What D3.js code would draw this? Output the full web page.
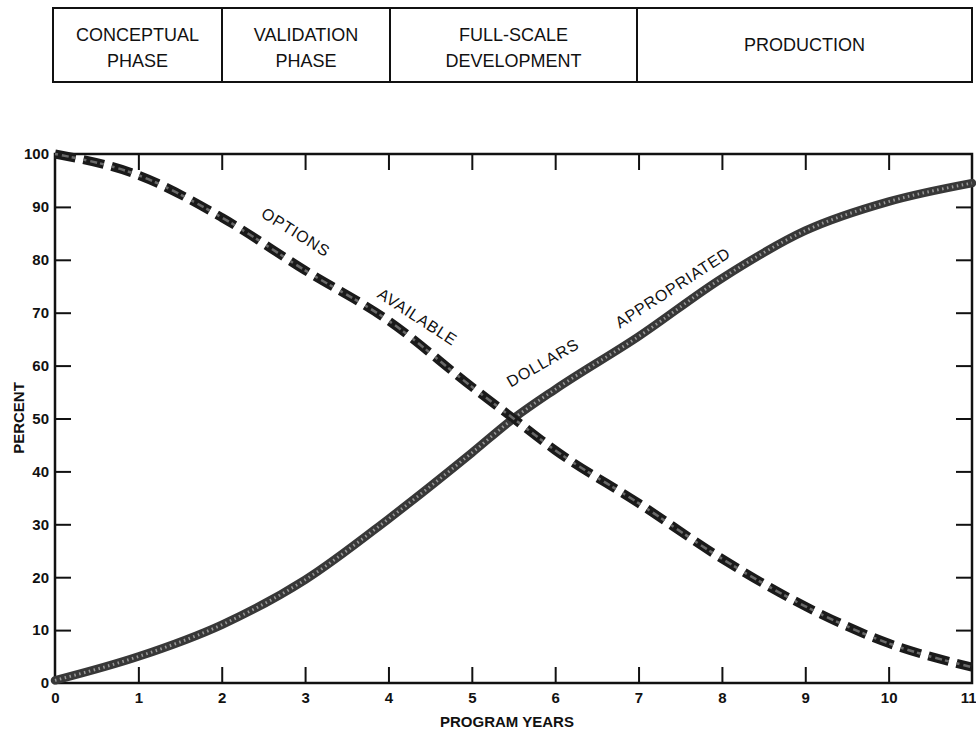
<!DOCTYPE html>
<html>
<head>
<meta charset="utf-8">
<script src="https://cdn.jsdelivr.net/npm/d3@7/dist/d3.min.js"></script>
<style>
  html, body { margin: 0; padding: 0; background: #fff; }
  svg { display: block; }
  text { font-family: "Liberation Sans", Arial, Helvetica, sans-serif; fill: #111; }
</style>
</head>
<body>
<svg id="chart" width="976" height="730"></svg>
<script>
// ---- data ----
const years = [0, 1, 2, 3, 4, 5, 5.5, 6, 7, 8, 9, 10, 11];
const dollarsAppropriated = [0.5, 5, 11, 19.5, 31, 43.5, 50, 55.5, 65.5, 76.5, 85.5, 91, 94.5];
const optionsAvailable   = [100, 96, 88, 78, 68.5, 56, 50, 44, 34, 23.5, 14.5, 7.5, 3];
const xTickValues = [0, 1, 2, 3, 4, 5, 6, 7, 8, 9, 10, 11];
const yTickValues = [0, 10, 20, 30, 40, 50, 60, 70, 80, 90, 100];
const phaseNames = [["CONCEPTUAL", "PHASE"], ["VALIDATION", "PHASE"], ["FULL-SCALE", "DEVELOPMENT"], ["PRODUCTION"]];
const phaseBounds = [[53, 222], [222, 390], [390, 637], [637, 972]]; // pixel columns of the header boxes
const curveLabels = [
  { text: "OPTIONS", year: 2.88, pct: 85.0, angle: 32 },
  { text: "AVAILABLE", year: 4.34, pct: 69.0, angle: 33 },
  { text: "DOLLARS", year: 5.86, pct: 60.3, angle: -30 },
  { text: "APPROPRIATED", year: 7.42, pct: 74.5, angle: -33 }
];

// ---- layout ----
const svg = d3.select("#chart");
const x = d3.scaleLinear().domain([0, 11]).range([55, 972]);
const y = d3.scaleLinear().domain([0, 100]).range([683, 154]);

// ---- phase header ----
const hdrTop = 8, hdrBot = 82;
const hdr = svg.append("g");
hdr.append("rect").attr("x", phaseBounds[0][0]).attr("y", hdrTop)
  .attr("width", phaseBounds[3][1] - phaseBounds[0][0]).attr("height", hdrBot - hdrTop)
  .attr("fill", "none").attr("stroke", "#111").attr("stroke-width", 2);
phaseBounds.slice(1).forEach(b => {
  hdr.append("line").attr("x1", b[0]).attr("x2", b[0]).attr("y1", hdrTop).attr("y2", hdrBot)
    .attr("stroke", "#111").attr("stroke-width", 2);
});
phaseNames.forEach((lines, i) => {
  const cx = (phaseBounds[i][0] + phaseBounds[i][1]) / 2;
  const baselines = lines.length === 2 ? [41, 67] : [51];
  lines.forEach((t, j) => {
    hdr.append("text").attr("x", cx).attr("y", baselines[j])
      .attr("text-anchor", "middle").attr("font-size", 18).text(t);
  });
});

// ---- frame ----
svg.append("rect").attr("x", x(0)).attr("y", y(100))
  .attr("width", x(11) - x(0)).attr("height", y(0) - y(100))
  .attr("fill", "none").attr("stroke", "#111").attr("stroke-width", 2.5);

// ---- axes (inward ticks on all sides) ----
const tickLen = 16;
const gB = svg.append("g").attr("transform", `translate(0,${y(0)})`)
  .call(d3.axisBottom(x).tickValues(xTickValues).tickSizeInner(-tickLen).tickSizeOuter(0).tickPadding(9).tickFormat(d3.format("d")));
const gT = svg.append("g").attr("transform", `translate(0,${y(100)})`)
  .call(d3.axisTop(x).tickValues(xTickValues.slice(1, -1)).tickSizeInner(-tickLen).tickSizeOuter(0).tickFormat(""));
const gL = svg.append("g").attr("transform", `translate(${x(0)},0)`)
  .call(d3.axisLeft(y).tickValues(yTickValues).tickSizeInner(-tickLen).tickSizeOuter(0).tickPadding(6).tickFormat(d3.format("d")));
const gR = svg.append("g").attr("transform", `translate(${x(11)},0)`)
  .call(d3.axisRight(y).tickValues(yTickValues.slice(1, -1)).tickSizeInner(-tickLen).tickSizeOuter(0).tickFormat(""));
[gB, gT, gL, gR].forEach(g => {
  g.select(".domain").remove();
  g.selectAll(".tick line").attr("stroke", "#111").attr("stroke-width", 2);
  g.selectAll(".tick text").attr("font-size", 15).attr("font-weight", "bold")
    .attr("font-family", "'Liberation Sans', Arial, sans-serif").attr("fill", "#111");
});
gL.selectAll(".tick").filter(d => d === 0 || d === 100).select("line").remove();
gB.selectAll(".tick").filter(d => d === 0 || d === 11).select("line").remove();
gB.selectAll(".tick").filter(d => d === 11).select("text").attr("text-anchor", "end").attr("dx", 4);

// ---- axis titles ----
svg.append("text").attr("x", 507).attr("y", 727).attr("text-anchor", "middle")
  .attr("font-size", 15).attr("font-weight", "bold").text("PROGRAM YEARS");
svg.append("text").attr("transform", "translate(24,418) rotate(-90)").attr("text-anchor", "middle")
  .attr("font-size", 15).attr("font-weight", "bold").text("PERCENT");

// ---- curves ----
const line = d3.line().x(d => x(d[0])).y(d => y(d[1])).curve(d3.curveMonotoneX);
const optData = years.map((yr, i) => [yr, optionsAvailable[i]]);
const dolData = years.map((yr, i) => [yr, dollarsAppropriated[i]]);

// dollars appropriated: thick solid speckled line
svg.append("path").attr("d", line(dolData)).attr("fill", "none")
  .attr("stroke", "#383838").attr("stroke-width", 8.5).attr("stroke-linecap", "round");
svg.append("path").attr("d", line(dolData)).attr("fill", "none")
  .attr("stroke", "#9a9a9a").attr("stroke-width", 3).attr("stroke-dasharray", "1.5 3.5");

// options available: thick dashed line
svg.append("path").attr("d", line(optData)).attr("fill", "none")
  .attr("stroke", "#1a1a1a").attr("stroke-width", 9).attr("stroke-dasharray", "21 8");
svg.append("path").attr("d", line(optData)).attr("fill", "none")
  .attr("stroke", "#6a6a6a").attr("stroke-width", 2.5).attr("stroke-dasharray", "3 4 7 3 4 8");

// ---- curve labels ----
curveLabels.forEach(l => {
  svg.append("text")
    .attr("transform", `translate(${x(l.year)},${y(l.pct)}) rotate(${l.angle})`)
    .attr("text-anchor", "middle").attr("dominant-baseline", "middle")
    .attr("font-size", 16).attr("letter-spacing", 0.8).text(l.text);
});
</script>
</body>
</html>
